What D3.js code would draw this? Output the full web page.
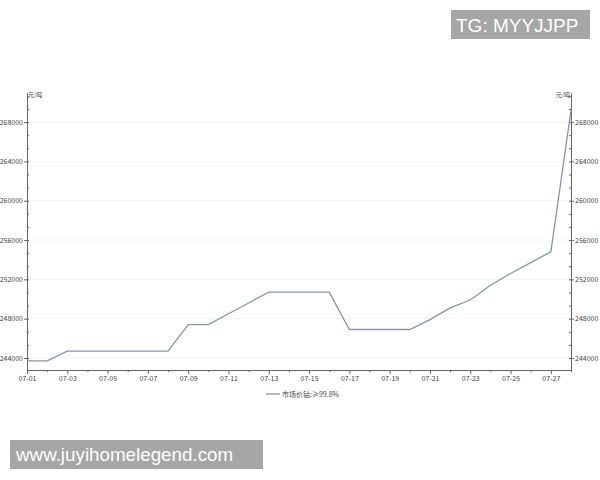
<!DOCTYPE html>
<html>
<head>
<meta charset="utf-8">
<script src="https://cdn.jsdelivr.net/npm/d3@7"></script>
<style>
  body { margin: 0; background: #fff; }
  text { font-family: 'Noto Sans CJK SC', 'Noto Sans', sans-serif; }
</style>
</head>
<body>
<div id="chart"></div>
<script>
// data
var dates = ['07-01', '07-02', '07-03', '07-04', '07-05', '07-06', '07-07', '07-08', '07-09', '07-10',
  '07-11', '07-12', '07-13', '07-14', '07-15', '07-16', '07-17', '07-18', '07-19', '07-20',
  '07-21', '07-22', '07-23', '07-24', '07-25', '07-26', '07-27', '07-28']
var prices = [243700, 243700, 244700, 244700, 244700, 244700, 244700, 244700, 247400, 247400,
  248500, 249600, 250700, 250700, 250700, 250700, 246900, 246900, 246900, 246900,
  247900, 249100, 249900, 251400, 252600, 253700, 254800, 269200]
var yTicks = [244000, 248000, 252000, 256000, 260000, 264000, 268000]
var seriesName = '市场价钴:≥99.8%'
var unitLabel = '元/吨'

var width = 600
var height = 480
var margin = { top: 93, left: 27, right: 29, bottom: 110 }

var svg = d3
  .select('#chart')
  .append('svg')
  .attr('width', width)
  .attr('height', height)

var parseTime = d3.timeParse('%m-%d')
var points = dates.map((d, i) => ({ date: parseTime(d), price: prices[i] }))

var xPositionScale = d3
  .scaleTime()
  .domain(d3.extent(points, d => d.date))
  .range([margin.left, width - margin.right])

var yPositionScale = d3
  .scaleLinear()
  .domain([242780, 270960])
  .range([height - margin.bottom, margin.top])

// faint grid
svg
  .selectAll('.grid')
  .data(yTicks)
  .enter()
  .append('line')
  .attr('x1', margin.left)
  .attr('x2', width - margin.right)
  .attr('y1', d => yPositionScale(d))
  .attr('y2', d => yPositionScale(d))
  .attr('stroke', '#f3f3f3')

// minor y ticks, a third of the label step
var minor = d3.range(244000 - 4000, 271000, 4000 / 3).filter(v => v >= 242780 && v <= 270960)

function styleAxis(g) {
  g.selectAll('path, line').attr('stroke', '#666')
  g.selectAll('text').attr('fill', '#444').attr('font-size', 7)
}

var yLeft = svg.append('g').attr('transform', 'translate(' + margin.left + ',0)')
yLeft.call(d3.axisLeft(yPositionScale).tickValues(yTicks).tickSize(3).tickPadding(1).tickSizeOuter(0).tickFormat(d => d))
yLeft.call(styleAxis)
svg
  .append('g')
  .attr('transform', 'translate(' + margin.left + ',0)')
  .call(d3.axisRight(yPositionScale).tickValues(minor).tickSize(2).tickFormat('').tickSizeOuter(0))
  .call(styleAxis)

var yRight = svg.append('g').attr('transform', 'translate(' + (width - margin.right) + ',0)')
yRight.call(d3.axisRight(yPositionScale).tickValues(yTicks).tickSize(3).tickPadding(1).tickSizeOuter(0).tickFormat(d => d))
yRight.call(styleAxis)
svg
  .append('g')
  .attr('transform', 'translate(' + (width - margin.right) + ',0)')
  .call(d3.axisLeft(yPositionScale).tickValues(minor).tickSize(2).tickFormat('').tickSizeOuter(0))
  .call(styleAxis)

// x axis: a tick every day, label every other day
var xAxisG = svg
  .append('g')
  .attr('transform', 'translate(0,' + (height - margin.bottom) + ')')
xAxisG.call(
  d3.axisBottom(xPositionScale)
    .tickValues(points.map(d => d.date))
    .tickSize(2)
    .tickSizeOuter(0)
    .tickPadding(4)
    .tickFormat((d, i) => (i % 2 === 0 ? d3.timeFormat('%m-%d')(d) : ''))
)
xAxisG.call(styleAxis)
xAxisG.selectAll('.tick line').attr('y2', (d, i) => (i % 2 === 0 ? 4 : 2))

// unit labels
svg
  .append('text')
  .text(unitLabel)
  .attr('x', margin.left + 1)
  .attr('y', margin.top + 4)
  .attr('font-size', 6)
  .attr('fill', '#444')

svg
  .append('text')
  .text(unitLabel)
  .attr('x', width - margin.right - 1)
  .attr('y', margin.top + 4)
  .attr('text-anchor', 'end')
  .attr('font-size', 6)
  .attr('fill', '#444')

// the price line
var line = d3
  .line()
  .x(d => xPositionScale(d.date))
  .y(d => yPositionScale(d.price))

svg
  .append('path')
  .datum(points)
  .attr('d', line)
  .attr('fill', 'none')
  .attr('stroke', '#8593b2')
  .attr('stroke-width', 1.3)

// legend
svg
  .append('line')
  .attr('x1', 266)
  .attr('x2', 280)
  .attr('y1', 394)
  .attr('y2', 394)
  .attr('stroke', '#8593b2')
  .attr('stroke-width', 1.3)

svg
  .append('text')
  .text(seriesName)
  .attr('x', 282)
  .attr('y', 396.5)
  .attr('font-size', 7)
  .attr('fill', '#444')

// watermarks
svg.append('rect').attr('x', 451).attr('y', 10).attr('width', 139).attr('height', 29).attr('fill', '#a6a6a6')
svg
  .append('text')
  .text('TG: MYYJJPP')
  .attr('x', 456)
  .attr('y', 32)
  .attr('font-size', 19)
  .attr('fill', '#fff')
  .style('font-family', 'Liberation Sans, Arial, sans-serif')

svg.append('rect').attr('x', 10).attr('y', 440).attr('width', 253).attr('height', 29).attr('fill', '#a6a6a6')
svg
  .append('text')
  .text('www.juyihomelegend.com')
  .attr('x', 16)
  .attr('y', 461)
  .attr('font-size', 18.8)
  .attr('fill', '#fff')
  .style('font-family', 'Liberation Sans, Arial, sans-serif')
</script>
</body>
</html>
